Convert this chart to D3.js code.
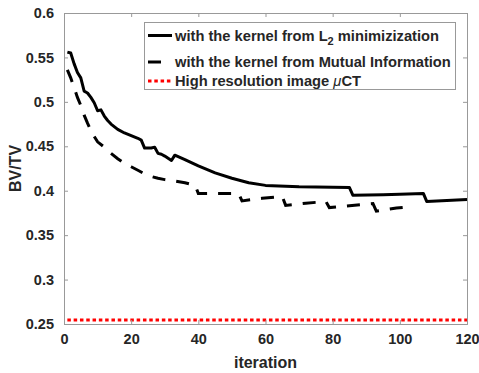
<!DOCTYPE html>
<html>
<head>
<meta charset="utf-8">
<script src="https://cdn.jsdelivr.net/npm/d3@7"></script>
<style>
  html, body { margin: 0; padding: 0; background: #fff; }
  svg { display: block; font-family: "Liberation Sans", Arial, Helvetica, sans-serif; font-weight: bold; }
</style>
</head>
<body>
<svg id="chart" width="479" height="373"></svg>
<script>
// ---- data ----
const l2Iter = [1,2,3,4,5,6,7,8,9,10,11,12,13,14,16,18,20,22,23,24,26,27,28,29,30,32,33,36,40,45,50,55,60,70,80,85,86,95,100,107,108,120];
const l2Vals = [0.556,0.555,0.543,0.533,0.527,0.512,0.510,0.505,0.499,0.490,0.491,0.484,0.479,0.475,0.469,0.465,0.462,0.459,0.457,0.448,0.448,0.449,0.442,0.441,0.439,0.434,0.440,0.435,0.428,0.420,0.414,0.409,0.406,0.4045,0.404,0.4035,0.395,0.3955,0.396,0.397,0.388,0.390];

const miIter = [1,2,3,4,5,6,7,8,9,10,12,14,16,18,20,22,24,26,28,30,33,36,38,39,40,52,53,59,65,66,72,78,79,85,92,93,99,103];
const miVals = [0.536,0.527,0.516,0.505,0.496,0.485,0.476,0.468,0.461,0.455,0.449,0.442,0.436,0.431,0.427,0.423,0.419,0.416,0.414,0.4125,0.411,0.409,0.407,0.4065,0.397,0.397,0.3885,0.3915,0.3935,0.3835,0.386,0.3878,0.381,0.3832,0.3855,0.377,0.3805,0.382];

const refIter = [1,120];
const refVals = [0.2545,0.2545];

const xTicks = [0,20,40,60,80,100,120];
const yTicks = [0.25,0.3,0.35,0.4,0.45,0.5,0.55,0.6];

const seriesNames = ["with the kernel from L", "with the kernel from Mutual Information", "High resolution image "];

// ---- layout ----
const svg = d3.select("#chart");
const L = 64, R = 467, T = 13, B = 324;
const x = d3.scaleLinear().domain([0,120]).range([L,R]);
const y = d3.scaleLinear().domain([0.25,0.6]).range([B,T]);
const textCol = "#262626", axisCol = "#999";

// series
const line = d3.line().x(d => x(d[0])).y(d => y(d[1]));
const zip = (a,b) => a.map((v,i) => [v,b[i]]);

svg.append("path").datum(zip(refIter, refVals)).attr("d", line)
  .attr("fill","none").attr("stroke","#ff0000").attr("stroke-width",3).attr("stroke-dasharray","3.5,2.8");
svg.append("path").datum(zip(miIter, miVals)).attr("d", line)
  .attr("fill","none").attr("stroke","#000").attr("stroke-width",3).attr("stroke-dasharray","13,11");
svg.append("path").datum(zip(l2Iter, l2Vals)).attr("d", line)
  .attr("fill","none").attr("stroke","#000").attr("stroke-width",3).attr("stroke-linejoin","round");

// axes
const xAxB = d3.axisBottom(x).tickValues(xTicks).tickSize(-4).tickPadding(10).tickFormat(d3.format("d"));
const xAxT = d3.axisTop(x).tickValues(xTicks).tickSize(-4).tickFormat("");
const yAxL = d3.axisLeft(y).tickValues(yTicks).tickSize(-4).tickPadding(10).tickFormat(d => String(+d.toFixed(2)));
const yAxR = d3.axisRight(y).tickValues(yTicks).tickSize(-4).tickFormat("");

function style(g) {
  g.select(".domain").attr("stroke", axisCol).attr("stroke-width",1);
  g.selectAll(".tick line").attr("stroke", axisCol);
  g.selectAll(".tick text").attr("fill", textCol).attr("font-size", 14.5).attr("font-weight","bold")
    .attr("font-family","Liberation Sans, Arial, sans-serif");
}
svg.append("g").attr("transform",`translate(0,${B})`).call(xAxB).call(style);
svg.append("g").attr("transform",`translate(0,${T})`).call(xAxT).call(style);
svg.append("g").attr("transform",`translate(${L},0)`).call(yAxL).call(style);
svg.append("g").attr("transform",`translate(${R},0)`).call(yAxR).call(style);

// axis labels
svg.append("text").attr("x",(L+R)/2).attr("y",368).attr("text-anchor","middle")
  .attr("fill",textCol).attr("font-size",16).text("iteration");
svg.append("text").attr("transform",`translate(21,${(T+B)/2}) rotate(-90)`).attr("text-anchor","middle")
  .attr("fill",textCol).attr("font-size",16).text("BV/TV");

// legend
const lg = svg.append("g");
lg.append("rect").attr("x",144.5).attr("y",22.5).attr("width",311).attr("height",67)
  .attr("fill","#fff").attr("stroke",axisCol).attr("stroke-width",1);
const rows = [35.5, 62, 81];
lg.append("line").attr("x1",148).attr("x2",172).attr("y1",rows[0]).attr("y2",rows[0])
  .attr("stroke","#000").attr("stroke-width",3);
lg.append("line").attr("x1",148).attr("x2",172).attr("y1",rows[1]).attr("y2",rows[1])
  .attr("stroke","#000").attr("stroke-width",3).attr("stroke-dasharray","13,11");
lg.append("line").attr("x1",148).attr("x2",172).attr("y1",rows[2]).attr("y2",rows[2])
  .attr("stroke","#ff0000").attr("stroke-width",3).attr("stroke-dasharray","3.5,2.8");

const fs = 14.7;
const t1 = lg.append("text").attr("x",175).attr("y",rows[0]+5).attr("fill",textCol).attr("font-size",fs);
t1.append("tspan").text(seriesNames[0]);
t1.append("tspan").attr("dy",4).attr("font-size",11).text("2");
t1.append("tspan").attr("dy",-4).text(" minimizization");
lg.append("text").attr("x",175).attr("y",rows[1]+5).attr("fill",textCol).attr("font-size",fs).text(seriesNames[1]);
const t3 = lg.append("text").attr("x",175).attr("y",rows[2]+5).attr("fill",textCol).attr("font-size",fs);
t3.append("tspan").text(seriesNames[2]);
t3.append("tspan").attr("font-style","italic").attr("font-weight","normal").text("μ");
t3.append("tspan").text("CT");
</script>
</body>
</html>
